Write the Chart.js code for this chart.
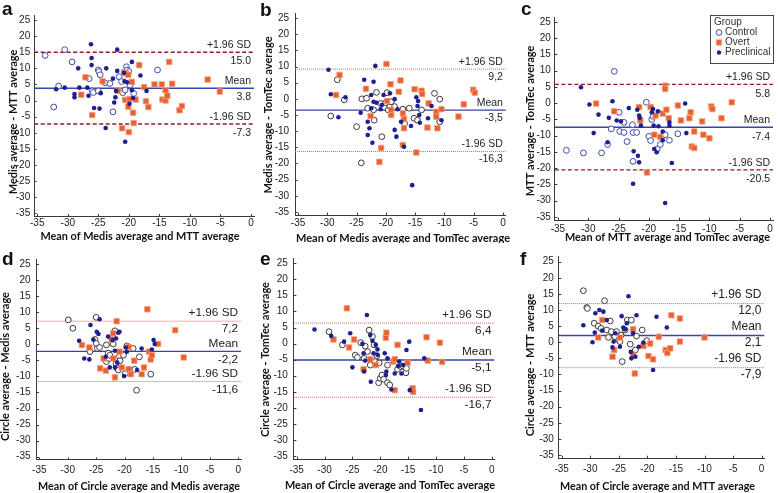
<!DOCTYPE html>
<html lang="en">
<head>
<meta charset="UTF-8">
<title>Bland-Altman plots</title>
<script src="https://cdn.jsdelivr.net/npm/chart.js"></script>
<style>
  body { margin: 0; background: #fff; }
  #wrap { position: relative; width: 778px; height: 493px; overflow: hidden; }
  #wrap canvas { position: absolute; }
</style>
</head>
<body>
<div id="wrap"></div>
<script>
// axis ticks
const xTicks = [-35, -30, -25, -20, -15, -10, -5, 0];
const yTicks = [-35, -30, -25, -20, -15, -10, -5, 0, 5, 10, 15, 20, 25];
const limitNames = ['+1.96 SD', 'Mean', '-1.96 SD'];
const groups = ['Control', 'Overt', 'Preclinical'];

// a: Medis vs MTT
const aLimits = [15.0, 3.8, -7.3];
const aControl = [[-33.7,14],[-30.5,15.8],[-29.3,12],[-32.3,-2],[-31.5,4.5],[-26.5,6.8],[-26,3],[-25.8,2.5],[-25,9.5],[-24.9,9],[-24.7,8],[-25,3],[-23.9,5.5],[-23.1,5.3],[-22.6,-3.5],[-21.6,7.4],[-21.2,5.9],[-21,2.4],[-20.4,10.5],[-20.3,9.5],[-20.6,3.3],[-20,9],[-19.8,4.8],[-19.2,2.2],[-15.3,9.5]];
const aOvert = [[-27.1,7.2],[-27.8,1.8],[-26,-4.5],[-24.3,6],[-21.8,3],[-20.8,8.8],[-20.5,8.5],[-20.1,8],[-21.1,-8.6],[-20.6,0.2],[-20,-9.8],[-20.1,-1.9],[-19.9,0.5],[-19.5,5.8],[-19.3,-3.8],[-19.2,-7],[-18.9,0.3],[-18.3,11],[-17.5,4.2],[-17.2,-0.2],[-16.8,-2],[-15.8,5],[-14.6,5],[-14.5,0.3],[-14,0],[-14,3.2],[-13.7,1.5],[-13.4,12],[-12.9,5.2],[-11.7,-3],[-11.3,-1.7],[-7.1,6.5],[-5.1,2.8]];
const aPre = [[-26.2,17.5],[-21.9,15.8],[-26.1,13.2],[-26.1,11],[-28.3,10],[-23.7,10],[-19.5,12],[-18.1,7.8],[-31.9,3.5],[-30.5,4],[-28.9,2],[-28.9,1],[-28.1,4],[-26.8,4],[-26.6,1.5],[-25.7,-2.3],[-24.8,-2.5],[-24.6,2.3],[-23.8,-8.5],[-22.6,6.8],[-22.4,-0.6],[-22.2,1],[-22.1,3],[-20.8,8.6],[-20.7,6],[-20.3,5.7],[-20.6,-12.8],[-19.9,-1],[-19.5,3.2],[-19.3,0.8],[-17.1,3],[-21.9,9.2]];

// b: Medis vs TomTec
const bLimits = [9.2, -3.5, -16.3];
const bControl = [[-29.4,-5.3],[-28.3,5.9],[-27.1,-0.3],[-25,-8.6],[-24.2,-19.8],[-24.1,0],[-23.3,0.2],[-23.1,-2.9],[-22.1,-3.4],[-22,-6.6],[-21.6,2],[-20.7,-11.7],[-20.9,-1.4],[-20,-1.2],[-19.8,1.9],[-19.6,-3.4],[-19.3,-2.4],[-19.1,-0.9],[-18.5,-2.4],[-17.1,-3.2],[-16.8,-7.6],[-16,-2.9],[-15.2,-6],[-14.6,-6.6],[-13.9,-3.4],[-11.7,1.7],[-10.8,-0.1],[-10.8,-7.1]];
const bOvert = [[-28.5,1.2],[-27.9,7.4],[-23.4,3.1],[-22.6,-5.3],[-20.8,-15.2],[-21.1,-19.5],[-19.9,10.8],[-19.8,-0.7],[-19.2,4.5],[-19.1,-3.4],[-19.1,-5],[-17.8,2.2],[-17.5,5.7],[-17.1,-4.5],[-16.9,-6.2],[-17.1,-14.3],[-16.9,-9.1],[-15.1,3],[-14.8,-16.6],[-13.9,2.5],[-13.8,1.5],[-12.7,-1.4],[-12.9,-8.9],[-11.4,-4],[-11.4,-5.5],[-11.2,-9.1],[-10.5,-3.2],[-7.6,-5.5],[-6.7,-1.7],[-5.1,2.8],[-4.8,1.9]];
const bPre = [[-29.8,9],[-29.4,1.4],[-28.1,-5.7],[-26.9,0.5],[-23.7,5.9],[-24.3,-4.3],[-23.1,-7.1],[-23.1,-11.2],[-22.8,-9.1],[-22.5,1.2],[-22.5,-2.9],[-22.3,-13.6],[-22.1,5.3],[-22.1,-0.9],[-21.8,10.2],[-21.6,-1.2],[-20.9,-3.2],[-20.7,-1.9],[-20.4,1.2],[-19.3,1.7],[-18.5,-0.1],[-18.5,-9.6],[-18.2,-11.7],[-18,-3.2],[-17.4,-7.1],[-15.7,-8.4],[-15.5,-26.7],[-14.8,0.5],[-14.6,-2.2],[-14.5,-0.7],[-14.3,-5],[-14.2,-7.4],[-12.8,-6],[-12.2,-2.2],[-10.5,-6.6],[-16.9,-14.8]];

// c: MTT vs TomTec
const cLimits = [5.8, -7.4, -20.5];
const cControl = [[-33.6,-14.5],[-30.8,-15.3],[-27.8,-15.3],[-26.8,-12.7],[-26.2,-7.9],[-25.7,9.8],[-24.9,-2.8],[-24.8,-8.7],[-24.1,-5.9],[-24.1,-9],[-23.6,-11.8],[-22.7,-6.6],[-22.6,-9],[-22.6,-17.9],[-22,-9],[-20.4,0.3],[-20,-10.2],[-19.7,-11.5],[-19.5,-5],[-19.3,-4],[-18.6,-14.1],[-18.1,-12.7],[-17.7,-10],[-17.3,-9.7],[-16.6,-11.4],[-15.2,-9.4]];
const cOvert = [[-28.7,-0.1],[-25.7,-2.5],[-21.6,-1.2],[-21.4,-5.3],[-20.3,-21.3],[-19.7,-1.2],[-18.9,-3.8],[-19.1,-9.7],[-18.1,-10.4],[-17.7,-3.2],[-17.3,5.4],[-17.3,4.4],[-17.1,-2],[-16.7,-4.6],[-15.2,-0.7],[-14.7,-5.3],[-13.3,-4.6],[-13.1,-2.8],[-12.9,-13.3],[-12.5,-13.8],[-12.5,-8.7],[-11.2,-5.6],[-11,-9.7],[-10,-10.8],[-9.7,-1],[-9.5,-1.8],[-8,-4.6],[-6.3,0.3]];
const cPre = [[-31.2,4.9],[-29.8,-0.4],[-29.1,-9.2],[-28.3,-3.5],[-26.6,-4.5],[-26.8,-12],[-26,0.6],[-25.3,-5.3],[-24.6,-5.6],[-23.3,-1.5],[-22.6,-24.8],[-22.5,-14.8],[-21.9,-2],[-21.8,-16.2],[-21.6,-18.2],[-21.6,-3.8],[-21.5,-4.5],[-21.3,-6.9],[-19.3,-1.8],[-19.5,-2.8],[-19.2,-6.9],[-19.1,-14.1],[-18.7,-15.1],[-18.5,-2.5],[-18.4,-7.1],[-17.7,-11.4],[-17.3,-30.7],[-17.7,-8.7],[-16.6,-5.9],[-16.6,-6.9],[-16.2,-18.4],[-14,-0.1],[-13.8,-9.2]];

// d: Circle vs Medis
const dLimits = [7.2, -2.2, -11.6];
const dControl = [[-29.9,7.6],[-29.1,5],[-26.1,-2.3],[-25,8.4],[-25.2,1.5],[-25,0.3],[-24.8,-1.3],[-24.4,-1],[-23.2,-0.2],[-22.9,-2.8],[-23.2,-5.4],[-22.7,-4.4],[-22.6,-3.4],[-22,0.1],[-21.7,4.2],[-21.5,-6],[-21.3,-7.5],[-21.1,-8],[-20.9,-3.9],[-20.8,-5.1],[-20.2,-3.4],[-19.9,-9.1],[-19.6,-0.5],[-19.2,-7.8],[-18.5,-1.3],[-18.2,-7.8],[-17.9,-14.3],[-17.4,-3.9],[-15.4,-9.3]];
const dOvert = [[-27.5,-0.2],[-26.2,-1],[-24.3,-7.5],[-23.7,-4.4],[-23.3,-8.2],[-22.3,1.5],[-22,3.4],[-22,-4.4],[-21.7,-10.3],[-21.4,7.2],[-20.9,-2.3],[-20.5,-7.2],[-19.3,-0.8],[-19.3,-7.8],[-18.9,-9.3],[-18.3,-5.1],[-17,-9.3],[-16.6,-7.2],[-16,10.9],[-15.7,-2.3],[-15.4,-4.7],[-15.2,-3.4],[-14.1,0.1],[-11.1,4.4],[-9.6,-4.1]];
const dPre = [[-28,1.1],[-27.1,-4.4],[-26.2,-4.7],[-26,6],[-25.5,1.5],[-24.9,3.9],[-24.6,3.2],[-24.4,7.8],[-23.3,-3.9],[-22.9,2.4],[-22.6,-7.2],[-22.1,1.3],[-21.7,-2],[-21.7,-7.2],[-21.5,1.8],[-21.3,-5.7],[-21.1,3.6],[-20.9,3.9],[-20.1,-9.9],[-19.8,-1],[-19.6,-2.3],[-17.8,-8],[-17,-1.3],[-15.2,-1.6],[-14.9,1.3],[-14.7,0.1]];

// e: Circle vs TomTec
const eLimits = [6.4, -5.1, -16.7];
const eControl = [[-29.2,3.7],[-26.8,-0.4],[-24.5,-3.6],[-24.1,-4.3],[-23.5,0.3],[-22.9,-4.6],[-22.7,-0.8],[-22.3,-2.5],[-22,4.2],[-21.8,-6.7],[-21.4,2.2],[-21.1,-0.4],[-20.9,-5.6],[-20.6,-3.8],[-20.3,-12.2],[-20.2,-6],[-20,-10.8],[-19.7,-9.8],[-19.4,-11.1],[-18.7,-6.7],[-18.7,-12.2],[-18.3,-12.9],[-16.9,-8],[-16.3,-7.2],[-15.9,-7],[-15.4,-9.1],[-15.3,-7.7]];
const eOvert = [[-28.4,1.3],[-26,11],[-25.6,-1.2],[-24.7,1.3],[-23,-8],[-21.8,-4.9],[-20.8,-6.7],[-19,1.8],[-18.9,3.4],[-17.7,-5.6],[-17.4,-4.9],[-17.4,-14.5],[-16.9,-0.4],[-15.1,-6],[-14.2,-13.9],[-14.1,-15],[-11.7,2],[-11.5,-5.3],[-9.3,0.3],[-8.9,-5.7]];
const ePre = [[-31.8,4.4],[-28.8,2.4],[-26.5,0.6],[-25.4,3.2],[-25,-7.4],[-23.2,-0.1],[-23,-3],[-22.9,-8.7],[-22.7,-5.3],[-22.4,8.9],[-21.8,2.7],[-21.7,-11.9],[-21.4,0.9],[-21.2,-3],[-20.8,-0.4],[-20.5,-1.8],[-20.5,-3.5],[-19.2,-3],[-19,-9.8],[-18.9,-8.7],[-18.7,-4.6],[-18,-14.3],[-17.4,-9.3],[-16.8,-7],[-16.6,-5.6],[-16.2,-9.3],[-15.9,-6.7],[-15.3,-2],[-14.8,0.6],[-14.7,-14.5],[-12.7,-20.7],[-12.1,-4.6]];

// f: Circle vs MTT
const fLimits = [12.0, 2.1, -7.9];
const fControl = [[-31.2,16],[-30.6,10.8],[-30.5,10.5],[-29.3,5.9],[-28.6,5],[-28.1,4.3],[-27.5,12.9],[-27.1,3.8],[-26.8,1.5],[-26.5,6.6],[-26.3,3.3],[-25.7,1.7],[-25.4,3.3],[-25,0.7],[-24.8,0.2],[-24.6,2.2],[-24.4,-6],[-23.9,3.8],[-23.5,6.9],[-23,-0.6],[-22.8,6.9],[-22.1,-2.4],[-21.9,1.9],[-20.9,3.8],[-20.1,0.5]];
const fOvert = [[-27.9,6.9],[-28.6,1.5],[-26.1,-4.5],[-25.8,-2.4],[-24.8,1.5],[-22.5,4],[-22.5,-3.8],[-22.2,-9.7],[-20.7,-1.2],[-19.8,-4.3],[-19.5,-0.4],[-19,-5.3],[-18,1.7],[-16.8,-2.4],[-16.5,-3.3],[-16,-1.9],[-15.8,8.4],[-14.3,7.4],[-14.3,0.2],[-10,1.5]];
const fPre = [[-31.2,5.3],[-29.6,0],[-29.2,3],[-29.1,9],[-28.4,10],[-27.9,3.6],[-27.7,9.5],[-27.1,6.9],[-26.1,-1.6],[-25.9,0.2],[-25.6,2.8],[-24.8,-1.4],[-24.5,8.1],[-24.2,4.6],[-23.9,4],[-23.6,5.9],[-23.3,14.3],[-22.9,-3],[-22.8,-5],[-22.5,2.8],[-22.1,-4.5],[-21.9,8.4],[-21.5,-1.4],[-20.7,-0.1],[-19,-8.6],[-18.4,7.9],[-16.6,4.6]];

const X_MIN = -35.5, X_MAX = 0.5, Y_MIN = -36, Y_MAX = 26.5;

const BLUE_RING = '#3b4ba8', DARK_RING = '#3a3a3a';
const OVERT_FILL = '#e8602f', OVERT_EDGE = '#f5a282';
const PRE_FILL = '#1f1f8f';
const MEAN_COLOR = '#3446a6';
const AXIS_COLOR = '#3a3a3a';

// panel layout: box = canvas position, area = plot area inside canvas
const panels = [
  { letter: 'a', box: [0, 0, 259, 243], area: [34.2, 15.2, 257.1, 216.5], lim: aLimits, pts: [aControl, aOvert, aPre],
    xTitle: 'Mean of Medis average and MTT average', yTitle: 'Medis average - MTT average',
    xt: [140, 236.7, 199], yt: [13, 122, 150], lp: [2, 15], tp: [0.5, 4], lf: 10.5, off: [7, 9], dashed: true, ring: BLUE_RING, comma: false },
  { letter: 'b', box: [259, 0, 259, 243], area: [36.1, 13.2, 246.9, 215.2], lim: bLimits, pts: [bControl, bOvert, bPre],
    xTitle: 'Mean of Medis average and TomTec average', yTitle: 'Medis average - TomTec average',
    xt: [144, 238, 214], yt: [9, 115, 157], lp: [1, 16], tp: [2, 6], lf: 10.5, off: [7, 7.5], dashed: false, ring: DARK_RING, comma: true },
  { letter: 'c', box: [518, 0, 260, 243], area: [36.9, 17.1, 257.1, 220.2], lim: cLimits, pts: [cControl, cOvert, cPre],
    xTitle: 'Mean of MTT average and TomTec average', yTitle: 'MTT average - TomTec average',
    xt: [149.5, 237, 205], yt: [12, 121, 152], lp: [3, 15], tp: [3, 4], lf: 10.5, off: [7, 9.5], dashed: true, ring: BLUE_RING, comma: false, legend: [192, 15, 63, 48] },
  { letter: 'd', box: [0, 243, 259, 250], area: [36.5, 16.2, 241.1, 216.9], lim: dLimits, pts: [dControl, dOvert, dPre],
    xTitle: 'Mean of Circle average and Medis average', yTitle: 'Circle average - Medis average',
    xt: [139, 243, 202], yt: [5.5, 123.5, 153], lp: [2, 22], tp: [4.5, 6], lf: 11.8, off: [8, 8], dashed: false, ring: DARK_RING, comma: true },
  { letter: 'e', box: [259, 243, 259, 250], area: [34.9, 15.5, 235.5, 216.2], lim: eLimits, pts: [eControl, eOvert, ePre],
    xTitle: 'Mean of Circle average and TomTec average', yTitle: 'Circle average - TomTec average',
    xt: [131, 242, 210], yt: [6, 116.5, 155], lp: [1, 22], tp: [5.5, 6], lf: 11.8, off: [8.5, 7.5], dashed: false, ring: DARK_RING, comma: true },
  { letter: 'f', box: [518, 243, 260, 250], area: [40.8, 13.9, 246.5, 215.2], lim: fLimits, pts: [fControl, fOvert, fPre],
    xTitle: 'Mean of Circle average and MTT average', yTitle: 'Circle average - MTT average',
    xt: [139.5, 243.5, 195], yt: [12, 122, 150], lp: [2, 22], tp: [5.5, 5], lf: 12, off: [9, 7], dashed: false, ring: DARK_RING, comma: true }
];

Chart.defaults.font.family = '"Liberation Sans", Arial, sans-serif';
Chart.defaults.color = '#222';

function marker(ctx, kind, x, y, ring) {
  ctx.beginPath();
  if (kind === 0) {
    ctx.arc(x, y, 2.8, 0, Math.PI * 2);
    ctx.fillStyle = '#fff'; ctx.fill();
    ctx.strokeStyle = ring; ctx.lineWidth = 1; ctx.stroke();
  } else if (kind === 1) {
    ctx.rect(x - 2.7, y - 2.7, 5.4, 5.4);
    ctx.fillStyle = OVERT_FILL; ctx.fill();
    ctx.strokeStyle = OVERT_EDGE; ctx.lineWidth = 0.8; ctx.stroke();
  } else {
    ctx.arc(x, y, 2.2, 0, Math.PI * 2);
    ctx.fillStyle = PRE_FILL; ctx.fill();
  }
}

function annotate(chart, p) {
  const ctx = chart.ctx, ca = chart.chartArea;
  const xs = chart.scales.x, ys = chart.scales.y;
  ctx.save();

  // small inward tick marks
  ctx.strokeStyle = AXIS_COLOR; ctx.lineWidth = 1;
  ctx.beginPath();
  xTicks.forEach(v => { const px = Math.round(xs.getPixelForValue(v)) + 0.5; ctx.moveTo(px, ca.bottom); ctx.lineTo(px, ca.bottom - 2.5); });
  yTicks.forEach(v => { const py = Math.round(ys.getPixelForValue(v)) + 0.5; ctx.moveTo(ca.left, py); ctx.lineTo(ca.left + 2.5, py); });
  ctx.stroke();

  // limit labels
  ctx.fillStyle = '#222';
  ctx.font = p.lf + 'px "Liberation Sans", Arial, sans-serif';
  ctx.textAlign = 'right'; ctx.textBaseline = 'middle';
  p.lim.forEach((v, i) => {
    const py = ys.getPixelForValue(v);
    let s = v.toFixed(1);
    if (p.comma) s = s.replace('.', ',');
    ctx.fillText(limitNames[i], ca.right - 3, py - p.off[0]);
    ctx.fillText(s, ca.right - 3, py + p.off[1]);
  });

  // panel letter
  ctx.textAlign = 'left'; ctx.textBaseline = 'alphabetic';
  ctx.font = 'bold 19px "Liberation Sans", Arial, sans-serif';
  ctx.fillStyle = '#111';
  ctx.fillText(p.letter, p.lp[0], p.lp[1]);

  // axis titles
  ctx.font = 'bold 11px Lato, "Liberation Sans", sans-serif';
  ctx.textAlign = 'center'; ctx.textBaseline = 'middle';
  ctx.fillText(p.xTitle, p.xt[0], p.xt[1], p.xt[2]);
  ctx.save();
  ctx.translate(p.yt[0], p.yt[1]);
  ctx.rotate(-Math.PI / 2);
  ctx.fillText(p.yTitle, 0, 0, p.yt[2]);
  ctx.restore();

  // legend box
  if (p.legend) {
    const [lx, ly, lw, lh] = p.legend;
    ctx.fillStyle = '#fff';
    ctx.fillRect(lx, ly, lw, lh);
    ctx.strokeStyle = '#444'; ctx.lineWidth = 1;
    ctx.strokeRect(lx + 0.5, ly + 0.5, lw, lh);
    ctx.font = '10px "Liberation Sans", Arial, sans-serif';
    ctx.textAlign = 'left'; ctx.fillStyle = '#333';
    ctx.fillText('Group', lx + 4, ly + 7.5);
    groups.forEach((g, i) => {
      const yy = ly + 17.5 + i * 10;
      marker(ctx, i, lx + 9, yy, p.ring);
      ctx.fillStyle = '#333';
      ctx.fillText(g, lx + 15, yy);
    });
  }
  ctx.restore();
}

const wrap = document.getElementById('wrap');

panels.forEach(p => {
  const cv = document.createElement('canvas');
  const [bx, by, bw, bh] = p.box;
  cv.width = bw; cv.height = bh;
  cv.style.left = bx + 'px'; cv.style.top = by + 'px';
  cv.style.width = bw + 'px'; cv.style.height = bh + 'px';
  wrap.appendChild(cv);

  const [al, at, ar, ab] = p.area;
  const refColor = p.dashed ? '#8e1b1b' : '#d9605a';
  const refDash = p.dashed ? [4, 2.5] : [1, 1];
  const lineData = v => [{ x: X_MIN, y: v }, { x: X_MAX, y: v }];
  const toXY = arr => arr.map(d => ({ x: d[0], y: d[1] }));

  new Chart(cv, {
    type: 'scatter',
    data: {
      datasets: [
        { label: 'Control', data: toXY(p.pts[0]), pointStyle: 'circle', pointRadius: 2.9,
          backgroundColor: '#fff', borderColor: p.ring, borderWidth: 1, order: 3 },
        { label: 'Overt', data: toXY(p.pts[1]), pointStyle: 'rect', pointRadius: 3.9,
          backgroundColor: OVERT_FILL, borderColor: OVERT_EDGE, borderWidth: 0.8, order: 2 },
        { label: 'Preclinical', data: toXY(p.pts[2]), pointStyle: 'circle', pointRadius: 2.3,
          backgroundColor: PRE_FILL, borderColor: PRE_FILL, borderWidth: 0, order: 1 },
        { type: 'line', label: 'upper', data: lineData(p.lim[0]), borderColor: refColor, borderDash: refDash,
          borderWidth: p.dashed ? 1.4 : 1, pointRadius: 0, order: 10 },
        { type: 'line', label: 'mean', data: lineData(p.lim[1]), borderColor: MEAN_COLOR,
          borderWidth: 1.4, pointRadius: 0, order: 10 },
        { type: 'line', label: 'lower', data: lineData(p.lim[2]), borderColor: refColor, borderDash: refDash,
          borderWidth: p.dashed ? 1.4 : 1, pointRadius: 0, order: 10 }
      ]
    },
    options: {
      responsive: false,
      animation: false,
      layout: { padding: { left: 0, top: at, right: bw - ar, bottom: 0 } },
      plugins: { legend: { display: false }, tooltip: { enabled: false } },
      scales: {
        x: {
          type: 'linear', min: X_MIN, max: X_MAX,
          grid: { display: false, drawTicks: false },
          border: { display: true, color: AXIS_COLOR, width: 1 },
          afterBuildTicks: s => { s.ticks = xTicks.map(v => ({ value: v })); },
          afterFit: s => { s.height = bh - ab; },
          ticks: { padding: p.tp[0], autoSkip: false, font: { size: 10 }, color: '#222', maxRotation: 0, callback: v => String(v) }
        },
        y: {
          type: 'linear', min: Y_MIN, max: Y_MAX,
          grid: { display: false, drawTicks: false },
          border: { display: true, color: AXIS_COLOR, width: 1 },
          afterBuildTicks: s => { s.ticks = yTicks.map(v => ({ value: v })); },
          afterFit: s => { s.width = al; },
          ticks: { padding: p.tp[1], autoSkip: false, font: { size: 10 }, color: '#222', callback: v => String(v) }
        }
      }
    },
    plugins: [{ id: 'annotate', afterDatasetsDraw: c => annotate(c, p) }]
  });
});
</script>
</body>
</html>
